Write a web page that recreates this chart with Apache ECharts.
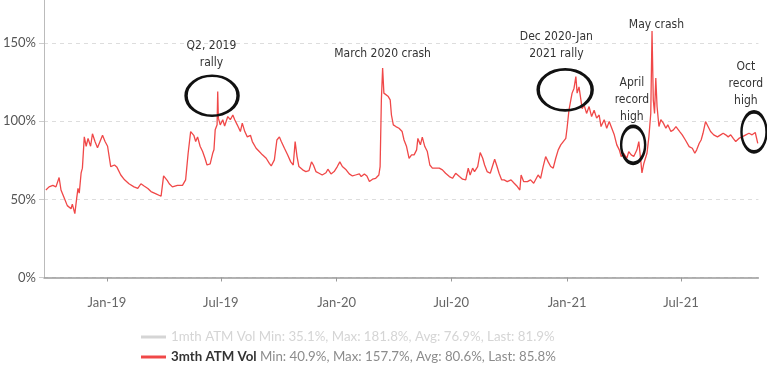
<!DOCTYPE html>
<html>
<head>
<meta charset="utf-8">
<script src="https://cdn.jsdelivr.net/npm/echarts@6/dist/echarts.min.js"></script>
<style>
html,body{margin:0;padding:0;background:#fff;}
#chart{width:767px;height:366px;}
</style>
</head>
<body>
<div id="chart"></div>
<script>
// ---- data ----
const seriesNames = ['1mth ATM Vol', '3mth ATM Vol'];
const statMin = [35.1, 40.9];
const statMax = [181.8, 157.7];
const statAvg = [76.9, 80.6];
const statLast = [81.9, 85.8];
const monthNames = ['Jan','Feb','Mar','Apr','May','Jun','Jul','Aug','Sep','Oct','Nov','Dec'];

const dates3m = [
'2018-09-26','2018-10-01','2018-10-07','2018-10-12','2018-10-17','2018-10-20','2018-10-25','2018-10-30','2018-11-05','2018-11-07','2018-11-11','2018-11-14','2018-11-16','2018-11-18','2018-11-21','2018-11-23','2018-11-26','2018-11-29','2018-12-02','2018-12-06','2018-12-09','2018-12-13','2018-12-17','2018-12-21','2018-12-25','2018-12-29',
'2019-01-02','2019-01-07','2019-01-13','2019-01-17','2019-01-23','2019-01-29','2019-02-05','2019-02-13','2019-02-19','2019-02-24','2019-03-01','2019-03-07','2019-03-12','2019-03-20','2019-03-28','2019-04-01','2019-04-07','2019-04-10','2019-04-15','2019-04-23','2019-05-01','2019-05-06','2019-05-10','2019-05-14','2019-05-19','2019-05-22','2019-05-25','2019-05-29','2019-06-02','2019-06-06','2019-06-09','2019-06-14','2019-06-18','2019-06-20','2019-06-22','2019-06-25','2019-06-26','2019-06-27','2019-06-30','2019-07-04','2019-07-07','2019-07-12','2019-07-16','2019-07-20','2019-07-23','2019-07-27','2019-08-01','2019-08-04','2019-08-08','2019-08-12','2019-08-17','2019-08-20','2019-08-26','2019-08-31','2019-09-05','2019-09-11','2019-09-16','2019-09-19','2019-09-24','2019-09-28','2019-10-02','2019-10-05','2019-10-10','2019-10-15','2019-10-20','2019-10-24','2019-10-27','2019-10-30','2019-11-02','2019-11-08','2019-11-13','2019-11-18','2019-11-22','2019-11-25','2019-11-29','2019-12-04','2019-12-09','2019-12-15','2019-12-18','2019-12-23','2019-12-28',
'2020-01-02','2020-01-06','2020-01-10','2020-01-16','2020-01-21','2020-01-26','2020-01-31','2020-02-06','2020-02-09','2020-02-14','2020-02-18','2020-02-22','2020-02-27','2020-03-03','2020-03-08','2020-03-10','2020-03-12','2020-03-14','2020-03-16','2020-03-19','2020-03-23','2020-03-26','2020-03-28','2020-03-31','2020-04-04','2020-04-09','2020-04-14','2020-04-17','2020-04-21','2020-04-25','2020-04-29','2020-05-03','2020-05-07','2020-05-09','2020-05-13','2020-05-16','2020-05-20','2020-05-24','2020-05-28','2020-06-01','2020-06-06','2020-06-12','2020-06-17','2020-06-22','2020-06-28','2020-07-03','2020-07-08','2020-07-14','2020-07-19','2020-07-24','2020-07-28','2020-07-31','2020-08-04','2020-08-07','2020-08-12','2020-08-16','2020-08-20','2020-08-23','2020-08-27','2020-09-01','2020-09-04','2020-09-08','2020-09-11','2020-09-15','2020-09-19','2020-09-23','2020-09-28','2020-10-04','2020-10-09','2020-10-14','2020-10-18','2020-10-20','2020-10-24','2020-10-30','2020-11-04','2020-11-09','2020-11-12','2020-11-16','2020-11-20','2020-11-24','2020-11-28','2020-12-02','2020-12-06','2020-12-10','2020-12-14','2020-12-18','2020-12-22','2020-12-26','2020-12-30',
'2021-01-01','2021-01-04','2021-01-07','2021-01-09','2021-01-12','2021-01-15','2021-01-17','2021-01-20','2021-01-23','2021-01-25','2021-01-28','2021-02-01','2021-02-05','2021-02-09','2021-02-13','2021-02-17','2021-02-21','2021-02-24','2021-03-01','2021-03-05','2021-03-09','2021-03-12','2021-03-17','2021-03-21','2021-03-25','2021-03-28','2021-04-01','2021-04-06','2021-04-09','2021-04-13','2021-04-17','2021-04-22','2021-04-25','2021-04-28','2021-04-30','2021-05-03','2021-05-08','2021-05-11','2021-05-14','2021-05-16','2021-05-18','2021-05-20','2021-05-22','2021-05-24','2021-05-27','2021-05-30','2021-06-03','2021-06-07','2021-06-10','2021-06-15','2021-06-19','2021-06-23','2021-06-25','2021-06-29','2021-07-03','2021-07-08','2021-07-14','2021-07-19','2021-07-23','2021-07-26','2021-07-30','2021-08-02','2021-08-05','2021-08-09','2021-08-13','2021-08-17','2021-08-22','2021-08-28','2021-09-02','2021-09-06','2021-09-10','2021-09-14','2021-09-18','2021-09-22','2021-09-26','2021-10-01','2021-10-06','2021-10-12','2021-10-17','2021-10-22','2021-10-27','2021-10-31'
];

const vol3m = [
56,58,59,58,64,56,51,46,44,47,40.9,51,57,54,67,70,90,84,89,84,92,87,83,87,91,87,
84,71,72,70.5,65.6,62.5,60,58,57,60,58.6,57,55,53.5,52,65,62,60,58,59,59,62.5,79.5,93.4,91,87,90,84,80.6,76,72,72.7,79.5,81.7,94.5,97.7,119,102,97.7,101,97,103,101,104,101,97.7,93.4,98.8,93.4,90,91,87,82.7,80.6,78.5,76.3,73,71.4,75.3,88,90,87,82.7,78.5,74,72,87,77.4,71,68.9,67.8,68.4,74,72,67.8,66.7,65.6,67,69.3,66.3,67.8,
71,74,71,68.9,66.3,65,65.6,66.3,64.6,66.3,65,61.4,62.9,63.5,65.6,71,113.7,134,118,118,115.8,113.7,104,97.7,96.6,95.5,93.4,88,83.8,76.3,78.5,78.5,81.7,89,84.9,89.8,83.8,80.6,72,70,70,70,68.9,66.7,64.6,63.5,66.7,64.6,62.9,62.5,70,65.6,70,67.8,71,80,76.3,72,67.8,66.7,70.6,75.7,72,66.7,62.5,62.5,61.4,62.5,60.3,58.2,56,65.6,61.4,61.4,62.5,60.3,59.2,65.6,63.5,71,77.4,74,71,70,76.3,81.7,84.9,87,89,
95.5,107,113.7,118,121,128.6,118,122,113.7,108,110.5,105,109.4,103,107,102,104,96.6,101,95.5,99.8,96.6,91.3,84.9,81.7,77.4,79.5,76.3,80.6,78.5,77.4,81.7,87,75.3,67,73,79.5,90,105,157.7,113.7,105,127.6,109.4,96.6,101,98.8,95.5,97.7,93.4,94.5,96.6,97.7,93.4,91.3,88,83.8,82.7,79.5,81.7,85.9,88,92.3,99.8,96.6,93.4,91.3,90,91.3,92.3,91.3,90,91.3,89,87,89,90,91.3,92.3,91.3,92.8,85.8
];

// annotations
const noteTexts = ['Q2, 2019\nrally', 'March 2020 crash', 'Dec 2020-Jan\n2021 rally', 'April\nrecord\nhigh', 'May crash', 'Oct\nrecord\nhigh'];
const noteDates = ['2019-06-16', '2020-03-14', '2020-12-15', '2021-04-14', '2021-05-23', '2021-10-12'];
const noteValues = [142.8, 143.2, 148.3, 114, 161.7, 123.9];
// circled regions: centre date, centre value, size
const ringDates = ['2019-06-17', '2020-12-29', '2021-04-16', '2021-10-25'];
const ringValues = [116.3, 120.1, 84.9, 93.2];
const ringW = [52, 54, 24, 25];
const ringH = [40, 41, 37, 40];

// ---- chart ----
const chart = echarts.init(document.getElementById('chart'), null, {renderer: 'canvas'});
const FONT = 'Lato, "Noto Sans", sans-serif';
const NOTE_FONT = '"Liberation Sans Narrow", "DejaVu Sans Condensed", "Liberation Sans", sans-serif';

const lineData = dates3m.map((d, i) => [d, vol3m[i]]);
const markData = [];
ringDates.forEach((d, i) => {
  markData.push({
    coord: [d, ringValues[i]],
    symbol: 'path://M0,50 A50,50 0 1,1 100,50 A50,50 0 1,1 0,50 Z',
    symbolSize: [ringW[i], ringH[i]],
    symbolKeepAspect: false,
    itemStyle: {color: 'rgba(0,0,0,0)', borderColor: '#111', borderWidth: 3},
    label: {show: false}
  });
});
noteDates.forEach((d, i) => {
  markData.push({
    coord: [d, noteValues[i]],
    symbol: 'circle',
    symbolSize: 1,
    itemStyle: {color: 'rgba(0,0,0,0)'},
    label: {
      show: true, position: 'inside', formatter: noteTexts[i],
      color: '#333', fontFamily: NOTE_FONT, fontSize: 12, lineHeight: 17, align: 'center'
    }
  });
});

const option = {
  animation: false,
  backgroundColor: '#fff',
  grid: {left: 44, right: 8.6, top: -35, bottom: 88.5, containLabel: false, outerBoundsMode: 'none'},
  legend: {
    orient: 'vertical',
    left: 141,
    top: 329,
    height: 37,
    padding: 0,
    itemGap: 4,
    itemWidth: 25,
    itemHeight: 3,
    icon: 'rect',
    inactiveColor: '#d5d5d5',
    selected: {'1mth ATM Vol': false},
    data: seriesNames,
    formatter: function (name) {
      const i = seriesNames.indexOf(name);
      const st = 'Min: ' + statMin[i].toFixed(1) + '%, Max: ' + statMax[i].toFixed(1) + '%, Avg: ' + statAvg[i].toFixed(1) + '%, Last: ' + statLast[i].toFixed(1) + '%';
      return i === 0 ? '{offN|' + name + '} {offS|' + st + '}' : '{onN|' + name + '} {onS|' + st + '}';
    },
    textStyle: {
      fontFamily: FONT, fontSize: 13, lineHeight: 16,
      rich: {
        offN: {color: '#d5d5d5', fontFamily: FONT, fontSize: 13.3, lineHeight: 16},
        offS: {color: '#d5d5d5', fontFamily: FONT, fontSize: 13.3, lineHeight: 16},
        onN: {color: '#333', fontFamily: FONT, fontSize: 13.3, fontWeight: 'bold', lineHeight: 16},
        onS: {color: '#8c8c8c', fontFamily: FONT, fontSize: 13.3, lineHeight: 16}
      }
    }
  },
  xAxis: {
    type: 'time',
    min: '2018-09-23',
    max: '2021-11-01',
    minInterval: 180 * 86400000,
    maxInterval: 186 * 86400000,
    splitNumber: 6,
    axisLine: {show: true, lineStyle: {color: '#9a9a9a', width: 1.5}},
    axisTick: {show: true, length: 4, lineStyle: {color: '#9a9a9a'}},
    splitLine: {show: false},
    minorTick: {show: false},
    axisLabel: {
      color: '#666', fontFamily: FONT, fontSize: 13, margin: 19,
      showMinLabel: false, showMaxLabel: false,
      formatter: function (v) {
        const d = new Date(v);
        return monthNames[d.getMonth()] + '-' + String(d.getFullYear()).slice(2);
      }
    }
  },
  yAxis: {
    type: 'value',
    min: 0, max: 200, interval: 50,
    axisLine: {show: true, lineStyle: {color: '#bbb', width: 1}},
    axisTick: {show: true, length: 5, lineStyle: {color: '#ccc'}},
    axisLabel: {color: '#555', fontFamily: FONT, fontSize: 13, margin: 8, formatter: '{value}%'},
    splitLine: {show: true, lineStyle: {color: '#ddd', type: [4, 4], width: 1}}
  },
  series: [
    {
      name: '1mth ATM Vol', type: 'line', data: [], showSymbol: false,
      itemStyle: {color: '#aaa'}, lineStyle: {color: '#aaa'}
    },
    {
      name: '3mth ATM Vol', type: 'line', data: lineData, showSymbol: false, symbol: 'none',
      itemStyle: {color: '#f04848'},
      lineStyle: {color: '#f04848', width: 1.3},
      markPoint: {silent: true, data: markData}
    }
  ]
};
chart.setOption(option);
</script>
</body>
</html>
